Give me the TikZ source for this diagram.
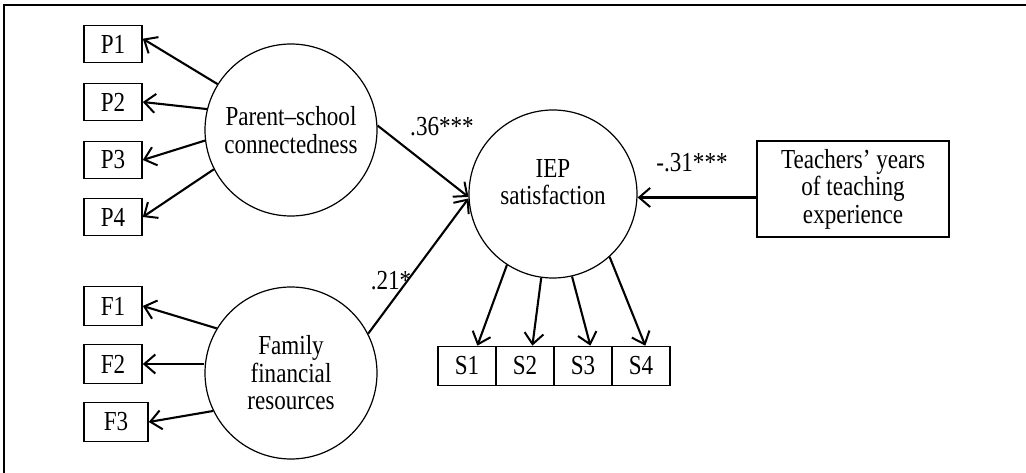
\documentclass[tikz,border=0pt]{standalone}
\usepackage{fontspec}
\setmainfont{Liberation Serif}[FakeStretch=0.84]
\usetikzlibrary{arrows.meta}
\begin{document}
\begin{tikzpicture}[x=1pt,y=-1pt,
  every node/.style={font=\fontsize{27.5}{27.5}\selectfont},
  obs/.style={draw,line width=1.6pt,minimum width=58pt,minimum height=37pt,inner sep=0pt},
  lat/.style={draw,circle,line width=1.2pt,minimum size=172pt,inner sep=0pt,align=center},
  pth/.style={line width=2.1pt,-{Straight Barb[length=11pt,width=19pt,line width=2pt]}},
  lbl/.style={inner sep=0pt}]
\useasboundingbox (0,0) rectangle (1026,473);
\draw[line width=2.2pt] (4,473) -- (4,5) -- (1026,5);
% latent variables
\node[lat] (pc) at (291,130) {Parent--school\\connectedness};
\node[lat] (fam) at (291,373) {Family\\financial\\resources};
\node[lat,minimum size=168pt,
  label={[lbl,align=center,yshift=12pt]center:IEP\\satisfaction}] (iep) at (553,194) {};
% indicators
\node[obs] (P1) at (113,44) {P1};
\node[obs] (P2) at (113,102) {P2};
\node[obs] (P3) at (113,160) {P3};
\node[obs] (P4) at (113,217) {P4};
\node[obs,minimum height=39pt] (F1) at (113,306) {F1};
\node[obs,minimum height=39pt] (F2) at (113,364) {F2};
\node[obs,minimum height=39pt,minimum width=64pt] (F3) at (116,422) {F3};
\node[obs,minimum height=39pt] (S1) at (467,366) {S1};
\node[obs,minimum height=39pt] (S2) at (525,366) {S2};
\node[obs,minimum height=39pt] (S3) at (583,366) {S3};
\node[obs,minimum height=39pt] (S4) at (641,366) {S4};
\node[draw,line width=1.6pt,minimum width=192pt,minimum height=96pt,inner sep=0pt,align=center]
  (teach) at (853,189) {Teachers’ years\\of teaching\\experience};
% loadings
\draw[pth] (pc.148) -- (P1.10);
\draw[pth] (pc.166) -- (P2.east);
\draw[pth] (pc.187) -- (P3.east);
\draw[pth] (pc.207) -- (P4.east);
\draw[pth] (fam.149) -- (F1.east);
\draw[pth] (fam.west |- F2.east) -- (F2.east);
\draw[pth] (fam.206) -- (F3.east);
\draw[pth] (iep.237) -- (S1.63);
\draw[pth] (iep.262) -- (S2.70);
\draw[pth] (iep.283) -- (S3.70);
\draw[pth] (iep.312) -- (S4.78);
% structural paths
\draw[pth] (pc.3) -- (iep.182);
\draw[pth] (fam.27) -- (iep.183);
\draw[pth] (teach.185) -- (teach.185 -| iep.east);
% labels
\node[lbl] (l1) at (442,127) {.36***};
\node[lbl] (l2) at (391,281) {.21*};
\node[lbl] (l3) at (692,163) {-.31***};
\end{tikzpicture}
\end{document}
